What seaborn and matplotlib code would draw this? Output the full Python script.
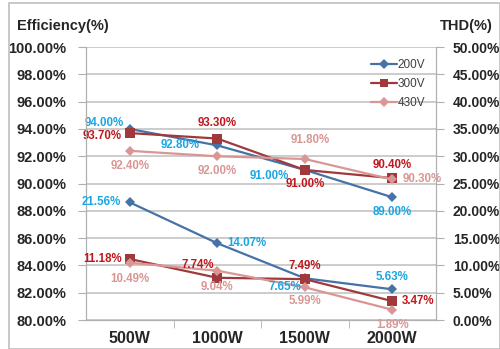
import pandas as pd
import seaborn as sns
import matplotlib.pyplot as plt
from matplotlib.patches import Rectangle

loads = ['500W', '1000W', '1500W', '2000W']
voltages = ['200V', '300V', '430V']
eff_200 = [94.00, 92.80, 91.00, 89.00]
eff_300 = [93.70, 93.30, 91.00, 90.40]
eff_430 = [92.40, 92.00, 91.80, 90.30]
thd_200 = [21.56, 14.07, 7.65, 5.63]
thd_300 = [11.18, 7.74, 7.49, 3.47]
thd_430 = [10.49, 9.04, 5.99, 1.89]

line_colors = {'200V': '#4572a7', '300V': '#a0393b', '430V': '#d99694'}
text_colors = {'200V': '#1aa6e4', '300V': '#c0161c', '430V': '#d99694'}
markers = {'200V': 'D', '300V': 's', '430V': 'D'}

rows = []
for v, e, t in zip(voltages, [eff_200, eff_300, eff_430], [thd_200, thd_300, thd_430]):
    for ld, ev, tv in zip(loads, e, t):
        rows.append({'load': ld, 'voltage': v, 'eff': ev, 'thd': tv})
df = pd.DataFrame(rows)

sns.set_style('white')
plt.rcParams['font.family'] = ['Liberation Sans', 'DejaVu Sans']

fig = plt.figure(figsize=(5, 3.49), dpi=100)
fig.patches.append(Rectangle((9 / 500, 0.0), 1 - 9 / 500, 1 - 3 / 349, transform=fig.transFigure,
                             fill=False, edgecolor='#bfbfbf', linewidth=1.2))
ax = fig.add_axes([0.172, 0.083, 0.7, 0.782])
ax2 = ax.twinx()

sns.lineplot(data=df, x='load', y='eff', hue='voltage', style='voltage', markers=markers,
             dashes=False, palette=line_colors, ax=ax, sort=False, linewidth=1.6,
             markersize=5.5, markeredgewidth=0)
sns.lineplot(data=df, x='load', y='thd', hue='voltage', style='voltage', markers=markers,
             dashes=False, palette=line_colors, ax=ax2, sort=False, linewidth=1.6,
             markersize=5.5, markeredgewidth=0, legend=False)
for a in (ax, ax2):
    for ln in a.lines:
        if ln.get_marker() == 's':
            ln.set_markersize(7.5)

ax.set_xlim(-0.5, 3.5)
ax.set_ylim(80, 100)
ax2.set_ylim(0, 50)
ax.set_yticks(range(80, 101, 2))
ax2.set_yticks(range(0, 51, 5))
ax.set_yticklabels([f'{v:.2f}%' for v in range(80, 101, 2)])
ax2.set_yticklabels([f'{v:.2f}%' for v in range(0, 51, 5)])
ax.grid(axis='y', color='#c8c8c8', linewidth=1.3)
ax.set_axisbelow(True)
ax.set_xlabel('')
ax.set_ylabel('')
ax2.set_ylabel('')
ax.set_xticks(range(4))
ax.set_xticklabels(loads)
ax.set_xticks([0.5, 1.5, 2.5], minor=True)

for a in (ax, ax2):
    for s in a.spines.values():
        s.set_color('#b0b0b0')
    a.spines['top'].set_visible(False)
ax.tick_params(axis='y', which='major', length=6, color='#b0b0b0', pad=8, labelsize=10.5)
ax2.tick_params(axis='y', length=6, color='#b0b0b0', pad=6, labelsize=10)
ax.tick_params(axis='x', which='major', length=0, pad=8, labelsize=11.5)
ax.tick_params(axis='x', which='minor', length=6, color='#b0b0b0', direction='out', bottom=True)
for lbl in ax.get_yticklabels() + ax2.get_yticklabels() + ax.get_xticklabels():
    lbl.set_fontweight('bold')

fig.text(17 / 500, 1 - 26 / 349, 'Efficiency(%)', fontsize=10.5, fontweight='bold', va='center', ha='left')
fig.text(440 / 500, 1 - 26 / 349, 'THD(%)', fontsize=10.5, fontweight='bold', va='center', ha='left')

eff_offsets = {
    '200V': [(-26, 6), (-37, 0), (-35, -6), (0, -15)],
    '300V': [(-28, -3), (0, 16), (0, -14), (0, 13)],
    '430V': [(0, -15), (0, -15), (5, 19), (30, 0)],
}
thd_offsets = {
    '200V': [(-28, 0), (30, 0), (-20, -9), (0, 12)],
    '300V': [(-27, 0), (-20, 13), (0, 13), (26, 0)],
    '430V': [(0, -16), (0, -16), (0, -14), (0, -15)],
}
for v, e, t in zip(voltages, [eff_200, eff_300, eff_430], [thd_200, thd_300, thd_430]):
    for i in range(4):
        ax.annotate(f'{e[i]:.2f}%', (i, e[i]), xytext=eff_offsets[v][i], textcoords='offset pixels',
                    ha='center', va='center', fontsize=8.3, fontweight='bold', color=text_colors[v])
        ax2.annotate(f'{t[i]:.2f}%', (i, t[i]), xytext=thd_offsets[v][i], textcoords='offset pixels',
                     ha='center', va='center', fontsize=8.3, fontweight='bold', color=text_colors[v])

sns.move_legend(ax, 'upper right', bbox_to_anchor=(1.0, 0.995), frameon=False, title=None,
                fontsize=8.5, handlelength=2.2, handletextpad=0.1, labelspacing=0.6,
                labelcolor='#404040')

fig.savefig('out.png', dpi=100)
